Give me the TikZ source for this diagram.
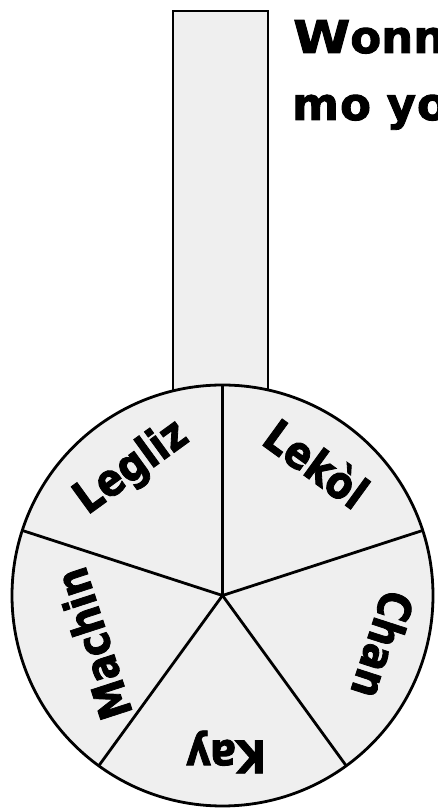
\documentclass[tikz,border=0pt]{standalone}
\usepackage{fontspec}
\setmainfont{DejaVu Sans}
\newfontfamily\heavyfont[FakeBold=2]{DejaVu Sans Bold}
\definecolor{wheelgray}{HTML}{EFEFEF}
\begin{document}
\begin{tikzpicture}[x=1pt,y=1pt,
  part/.style={draw=black, line width=2.8pt, fill=wheelgray, inner sep=0pt, outer sep=0pt},
  divider/.style={draw=black, line width=2.8pt},
  lbl/.style={font=\fontsize{45}{45}\selectfont\heavyfont, inner sep=0pt},
  ttl/.style={font=\fontsize{45}{45}\selectfont\heavyfont, inner sep=0pt, anchor=base west},
  ]
\useasboundingbox (0,0) rectangle (438,810);
\clip (0,0) rectangle (438,810);
\fill[white] (0,0) rectangle (438,810);
\node[part, minimum width=95pt, minimum height=400pt, anchor=north] (post) at (220.5,799) {};
\node[part, circle, minimum size=421pt] (wheel) at (222.5,214.5) {};
\foreach \a in {90,18,-54,-126,162} \draw[divider] (wheel.center) -- (wheel.\a);
\node[lbl, rotate=-36] (lekol) at (317,347) {\scalebox{0.86}[1]{Lekòl}};
\node[lbl, rotate=36] (legliz) at (132,342) {\scalebox{0.86}[1]{Legliz}};
\node[lbl, rotate=108] (machin) at (93,166) {\scalebox{0.86}[1]{Machin}};
\node[lbl, rotate=180] (kay) at (226,58) {\scalebox{0.86}[1]{Kay}};
\node[lbl, rotate=-108] (chan) at (383,165) {\scalebox{0.86}[1]{Chan}};
\node[ttl] (title1) at (293,757) {\scalebox{1.15}[1]{W}onn};
\node[ttl] (title2) at (292,690) {m\kern1pt o y\kern1pt o};
\end{tikzpicture}
\end{document}
